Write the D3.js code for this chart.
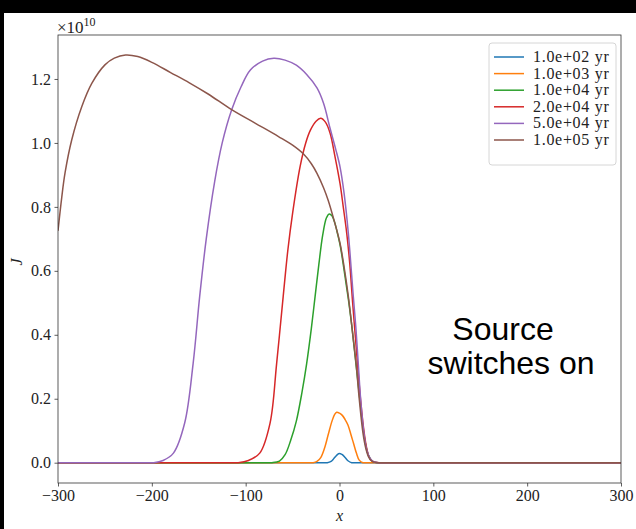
<!DOCTYPE html>
<html>
<head>
<meta charset="utf-8">
<script src="https://cdn.jsdelivr.net/npm/d3@7"></script>
<style>
html,body{margin:0;padding:0;background:#000;}
svg{display:block;}
</style>
</head>
<body>
<script>
// ---- data ----
const seriesLabels = ["1.0e+02 yr","1.0e+03 yr","1.0e+04 yr","2.0e+04 yr","5.0e+04 yr","1.0e+05 yr"];
const seriesColors = ["#1f77b4","#ff7f0e","#2ca02c","#d62728","#9467bd","#8c564b"];

const x100 = [-300,-16,-13,-9,-6,-3,-1,1,3,6,9,13,16,300];
const y100 = [0,0,0,0.004,0.013,0.023,0.028,0.028,0.025,0.016,0.006,0,0,0];

const x1e3 = [-300,-32,-28,-24,-20,-16,-12,-8,-5,-3,0,3,6,9,12,15,18,21,25,29,300];
const y1e3 = [0,0,0,0.004,0.016,0.045,0.088,0.13,0.152,0.158,0.155,0.148,0.135,0.118,0.09,0.06,0.03,0.008,0,0,0];

const x1e4 = [-300,-78,-72,-64,-58,-52,-46,-40,-35,-30,-26,-22,-18,-14,-11,-8,-5,-2,1,4,7,10,13,16,19,22,25,28,31,35,40,45,300];
const y1e4 = [0,0,0,0.005,0.025,0.07,0.13,0.22,0.31,0.42,0.52,0.62,0.71,0.765,0.778,0.772,0.75,0.715,0.675,0.62,0.56,0.5,0.43,0.35,0.27,0.19,0.11,0.055,0.022,0.004,0,0,0];

const x2e4 = [-300,-114,-108,-97,-85,-74,-67,-60,-55,-50,-42,-36,-31,-25,-20,-15,-10,-5,0.5,4,7.7,11,14,17,20,23,26,29,32,36,42,47,300];
const y2e4 = [0,0,0,0.007,0.03,0.124,0.31,0.52,0.666,0.78,0.926,1.0,1.04,1.068,1.077,1.065,1.03,0.96,0.874,0.8,0.718,0.62,0.5,0.39,0.28,0.18,0.1,0.045,0.015,0.003,0,0,0];

const x5e4 = [-300,-205,-198,-188,-177,-165,-156,-149,-142,-133,-125,-115,-105,-95,-82,-70,-58,-46,-35,-24,-17,-10,-4,0.5,5,9.4,14.7,17.5,20,22.5,26,29,33,37,43,48,300];
const y5e4 = [0,0,0,0.007,0.03,0.124,0.31,0.52,0.7,0.88,1.0,1.103,1.175,1.228,1.256,1.265,1.259,1.243,1.214,1.172,1.124,1.045,0.98,0.926,0.84,0.718,0.52,0.42,0.31,0.2,0.093,0.04,0.012,0.002,0,0,0];

const x1e5 = [-300,-296,-292.5,-285.4,-274.7,-264,-250,-240,-228,-215,-200,-180,-160,-140,-115,-90,-65,-50,-38.6,-30,-24,-17,-12,-6,0.5,5,9.4,14,18,21,25,28,30.7,34,38,43,48,300];
const y1e5 = [0.725,0.83,0.906,1.009,1.113,1.186,1.244,1.265,1.275,1.27,1.252,1.22,1.188,1.153,1.104,1.062,1.02,0.993,0.966,0.935,0.905,0.86,0.82,0.76,0.687,0.61,0.52,0.405,0.3,0.2,0.093,0.045,0.02,0.006,0.001,0,0,0];

const seriesX = [x100,x1e3,x1e4,x2e4,x5e4,x1e5];
const seriesY = [y100,y1e3,y1e4,y2e4,y5e4,y1e5];

const xTicks = [-300,-200,-100,0,100,200,300];
const yTicks = [0.0,0.2,0.4,0.6,0.8,1.0,1.2];

// ---- layout ----
const W = 636, H = 529;
const svg = d3.select("body").append("svg").attr("width",W).attr("height",H);
svg.append("rect").attr("x",4).attr("y",13).attr("width",W-4).attr("height",H-13).attr("fill","#fff");

const L = 58, R = 621, T = 35, B = 483;
const x = d3.scaleLinear().domain([-300,300]).range([L,R]);
const y = d3.scaleLinear().domain([-0.0635,1.3375]).range([B,T]);

const serif = "'Liberation Serif','Times New Roman',serif";

const line = d3.line().x(d=>x(d[0])).y(d=>y(Math.max(d[1],0) )).curve(d3.curveCatmullRom.alpha(0.5));
const g = svg.append("g");
g.append("clipPath").attr("id","clip").append("rect").attr("x",L).attr("y",T).attr("width",R-L).attr("height",B-T);
const plot = g.append("g").attr("clip-path","url(#clip)");
seriesX.forEach((xs,i)=>{
  const pts = xs.map((v,j)=>[v,seriesY[i][j]]);
  plot.append("path").attr("d",line(pts)).attr("fill","none")
    .attr("stroke",seriesColors[i]).attr("stroke-width",1.5).attr("stroke-linejoin","round");
});

// axes
const fmtX = d=> d<0 ? "\u2212"+Math.abs(d) : String(d);
const xAxis = d3.axisBottom(x).tickValues(xTicks).tickFormat(fmtX).tickSize(3.5).tickPadding(3.5);
const yAxis = d3.axisLeft(y).tickValues(yTicks).tickFormat(d3.format(".1f")).tickSize(3.5).tickPadding(3.5);
const gx = svg.append("g").attr("transform",`translate(0,${B})`).call(xAxis);
const gy = svg.append("g").attr("transform",`translate(${L},0)`).call(yAxis);
[gx,gy].forEach(a=>{
  a.select(".domain").remove();
  a.selectAll(".tick line").attr("stroke","#333").attr("stroke-width",0.8);
  a.selectAll(".tick text").attr("font-family",serif).attr("font-size",16).attr("fill","#222");
});
svg.append("rect").attr("x",L).attr("y",T).attr("width",R-L).attr("height",B-T)
  .attr("fill","none").attr("stroke","#333").attr("stroke-width",0.8);

// multiplier
const mult = svg.append("text").attr("x",L-1).attr("y",33).attr("font-family",serif).attr("font-size",17).attr("fill","#222");
mult.append("tspan").text("\u00d710");
mult.append("tspan").attr("font-size",12).attr("dy",-7).text("10");

// axis labels
svg.append("text").attr("x",x(0)).attr("y",521).attr("text-anchor","middle")
  .attr("font-family",serif).attr("font-style","italic").attr("font-size",16).attr("fill","#222").text("x");
svg.append("text").attr("transform","translate(22,262) rotate(-90)").attr("text-anchor","middle")
  .attr("font-family",serif).attr("font-style","italic").attr("font-size",16).attr("fill","#222").text("J");

// legend
const lg = svg.append("g");
lg.append("rect").attr("x",489).attr("y",43).attr("width",127).attr("height",122).attr("rx",3)
  .attr("fill","#fff").attr("fill-opacity",0.8).attr("stroke","#ccc").attr("stroke-width",0.8);
seriesLabels.forEach((lab,i)=>{
  const yy = 57 + i*16.6;
  lg.append("line").attr("x1",494).attr("x2",524).attr("y1",yy).attr("y2",yy)
    .attr("stroke",seriesColors[i]).attr("stroke-width",1.5);
  lg.append("text").attr("x",533).attr("y",yy+5).attr("font-family",serif).attr("font-size",16)
    .attr("letter-spacing",0.7).attr("fill","#222").text(lab);
});

// annotation
const ann = svg.append("g").attr("font-family","'Liberation Sans',Arial,sans-serif").attr("font-size",32).attr("fill","#000");
ann.append("text").attr("x",503).attr("y",340).attr("text-anchor","middle").text("Source");
ann.append("text").attr("x",511).attr("y",374).attr("text-anchor","middle").text("switches on");
</script>
</body>
</html>
